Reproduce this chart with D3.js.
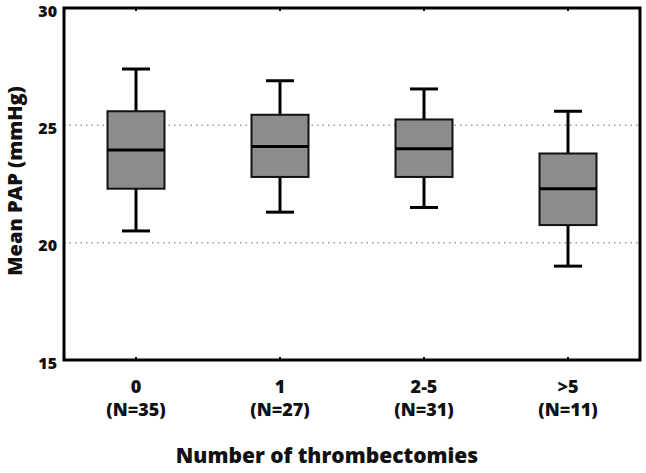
<!DOCTYPE html>
<html><head><meta charset="utf-8">
<script src="https://cdn.jsdelivr.net/npm/d3@7"></script>
<style>body{margin:0;background:#fff}svg{display:block}text{font-family:"Open Sans",sans-serif;font-weight:800;fill:#111}</style>
</head><body><svg id="c" width="646" height="473"></svg>
<script>
const categories = ["0","1","2-5",">5"];
const counts = ["(N=35)","(N=27)","(N=31)","(N=11)"];
const whiskerLow = [20.5, 21.3, 21.5, 19.0];
const q1 = [22.3, 22.8, 22.8, 20.75];
const median = [23.95, 24.1, 24.0, 22.3];
const q3 = [25.6, 25.45, 25.25, 23.8];
const whiskerHigh = [27.4, 26.9, 26.55, 25.6];
const yTicks = [15, 20, 25, 30];
const gridValues = [20, 25];

const svg = d3.select("#c");
const L = 64, R = 640, T = 8, B = 360;
const x = d3.scaleBand().domain(categories).range([L, R]);
const y = d3.scaleLinear().domain([15, 30]).range([B, T]);
const data = categories.map((c, i) => ({c, n: counts[i], lo: whiskerLow[i], q1: q1[i], med: median[i], q3: q3[i], hi: whiskerHigh[i]}));

svg.selectAll(".grid").data(gridValues).join("line")
  .attr("x1", L).attr("x2", R).attr("y1", d => y(d)).attr("y2", d => y(d))
  .attr("stroke", "#999").attr("stroke-width", 1.5).attr("stroke-dasharray", "1.5,4");

const bw = 57, cw = 28;
const g = svg.selectAll(".box").data(data).join("g")
  .attr("transform", d => `translate(${x(d.c) + x.bandwidth() / 2},0)`);
g.append("line").attr("x1", 0).attr("x2", 0).attr("y1", d => y(d.hi)).attr("y2", d => y(d.q3)).attr("stroke", "#000").attr("stroke-width", 3);
g.append("line").attr("x1", 0).attr("x2", 0).attr("y1", d => y(d.q1)).attr("y2", d => y(d.lo)).attr("stroke", "#000").attr("stroke-width", 3);
g.append("line").attr("x1", -cw / 2).attr("x2", cw / 2).attr("y1", d => y(d.hi)).attr("y2", d => y(d.hi)).attr("stroke", "#000").attr("stroke-width", 3);
g.append("line").attr("x1", -cw / 2).attr("x2", cw / 2).attr("y1", d => y(d.lo)).attr("y2", d => y(d.lo)).attr("stroke", "#000").attr("stroke-width", 3);
g.append("rect").attr("x", -bw / 2).attr("width", bw).attr("y", d => y(d.q3)).attr("height", d => y(d.q1) - y(d.q3))
  .attr("fill", "#8c8c8c").attr("stroke", "#111").attr("stroke-width", 2);
g.append("line").attr("x1", -bw / 2).attr("x2", bw / 2).attr("y1", d => y(d.med)).attr("y2", d => y(d.med)).attr("stroke", "#000").attr("stroke-width", 3);

svg.append("rect").attr("x", L).attr("y", T).attr("width", R - L).attr("height", B - T)
  .attr("fill", "none").attr("stroke", "#000").attr("stroke-width", 3);

svg.selectAll(".tb").data(categories).join("line")
  .attr("x1", d => x(d) + x.bandwidth() / 2).attr("x2", d => x(d) + x.bandwidth() / 2)
  .attr("y1", B - 3).attr("y2", B).attr("stroke", "#000").attr("stroke-width", 2);
svg.selectAll(".tt").data(categories).join("line")
  .attr("x1", d => x(d) + x.bandwidth() / 2).attr("x2", d => x(d) + x.bandwidth() / 2)
  .attr("y1", T).attr("y2", T + 3).attr("stroke", "#000").attr("stroke-width", 2);

const ya = svg.append("g").attr("transform", `translate(${L},0)`)
  .call(d3.axisLeft(y).tickValues(yTicks).tickSize(0).tickPadding(7).tickFormat(d3.format("d")));
ya.select(".domain").remove();
ya.selectAll("text").attr("font-size", 16).style("font-family", "'Open Sans', sans-serif").style("font-weight", "800").attr("fill", "#111")
  .attr("dy", "0.5em");

const xl = svg.selectAll(".xl").data(data).join("g")
  .attr("transform", d => `translate(${x(d.c) + x.bandwidth() / 2},0)`);
xl.append("text").attr("y", 393).attr("text-anchor", "middle").attr("font-size", 18).text(d => d.c);
xl.append("text").attr("y", 416).attr("text-anchor", "middle").attr("font-size", 18).text(d => d.n);

svg.append("text").attr("x", 327).attr("y", 463).attr("text-anchor", "middle").attr("font-size", 21).text("Number of thrombectomies");
svg.append("text").attr("transform", "translate(22,181) rotate(-90)").attr("text-anchor", "middle").attr("font-size", 20).text("Mean PAP (mmHg)");
</script></body></html>
